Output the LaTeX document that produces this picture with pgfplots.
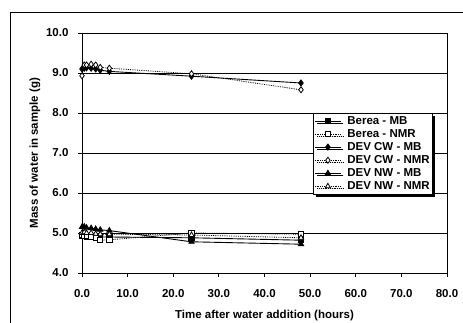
\documentclass[border=0pt]{standalone}
\usepackage{pgfplots}
\pgfplotsset{compat=1.18}
\usepackage{fontspec}
\setmainfont{Liberation Sans}
\usetikzlibrary{shadows}
\begin{document}
\begin{tikzpicture}[x=1pt,y=1pt]
\useasboundingbox (0,0) rectangle (463,323);
\draw[line width=0.8pt] (10,-2) -- (10,311) -- (465,311);
\begin{axis}[
  at={(82pt,50pt)}, anchor=south west,
  scale only axis, width=365pt, height=240pt,
  xmin=0, xmax=80, ymin=4, ymax=10,
  xtick={0,10,...,80}, ytick={4,5,...,10},
  /pgf/number format/assume math mode=true,
  /pgf/number format/.cd, fixed, fixed zerofill, precision=1, /pgfplots/.cd,
  tick label style={font=\bfseries\fontsize{11.5}{13}\selectfont},
  xticklabel style={yshift=-9pt},
  yticklabel style={xshift=-6pt},
  ymajorgrids, grid style={black, line width=0.7pt},
  axis line style={line width=0.9pt},
  tick style={black, line width=0.8pt},
  tick align=outside, tick pos=left, major tick length=4pt,
  xlabel={Time after water addition (hours)},
  ylabel={Mass of water in sample (g)},
  label style={font=\bfseries\fontsize{11.5}{13}\selectfont},
  xlabel style={at={(axis description cs:0.5,-0.179)}, anchor=center},
  ylabel style={at={(axis description cs:-0.129,0.5)}, anchor=center},
  legend style={at={(axis description cs:0.633,0.667)}, anchor=north west,
    draw=black, line width=0.8pt, fill=white,
    font=\bfseries\fontsize{11.5}{13}\selectfont,
    drop shadow={shadow xshift=2.5pt, shadow yshift=-2.5pt, fill=black, opacity=1},
    inner xsep=1pt, inner ysep=2pt, row sep=1.6pt,
    nodes={inner xsep=2pt, inner ysep=1pt},
    /tikz/every odd column/.append style={column sep=4pt}},
  legend cell align=left,
  legend image code/.code={\draw[mark repeat=2,mark phase=2,#1] plot coordinates {(0pt,0pt) (13pt,0pt) (26pt,0pt)};},
]
\addplot[black, line width=0.9pt, mark=square*, mark size=2.6pt, mark options={solid}] coordinates {
(0,4.92) (0.5,4.92) (1,4.91) (2,4.91) (3,4.9) (4,4.9) (6,4.9) (24,4.88) (48,4.82)};
\addlegendentry{Berea - MB}
\addplot[black, line width=0.8pt, densely dotted, mark=square*, mark size=2.6pt, mark options={solid, fill=white}] coordinates {
(0,4.95) (0.5,4.93) (1,4.92) (2,4.9) (3,4.88) (4,4.82) (6,4.83) (24,5.0) (48,4.97)};
\addlegendentry{Berea - NMR}
\addplot[black, line width=0.9pt, mark=diamond*, mark size=3pt, mark options={solid}] coordinates {
(0,9.1) (0.5,9.12) (1,9.13) (2,9.12) (3,9.1) (4,9.07) (6,9.04) (24,8.92) (48,8.75)};
\addlegendentry{DEV CW - MB}
\addplot[black, line width=0.8pt, densely dotted, mark=diamond*, mark size=3pt, mark options={solid, fill=white}] coordinates {
(0,8.93) (0.5,9.2) (1,9.2) (2,9.22) (3,9.2) (4,9.14) (6,9.12) (24,8.98) (48,8.58)};
\addlegendentry{DEV CW - NMR}
\addplot[black, line width=0.9pt, mark=triangle*, mark size=3pt, mark options={solid}] coordinates {
(0,5.15) (0.5,5.16) (1,5.13) (2,5.12) (3,5.1) (4,5.08) (6,5.06) (24,4.78) (48,4.72)};
\addlegendentry{DEV NW - MB}
\addplot[black, line width=0.8pt, densely dotted, mark=triangle*, mark size=3pt, mark options={solid, fill=white}] coordinates {
(0,5.0) (0.5,5.02) (1,5.0) (2,5.0) (3,4.98) (4,4.97) (6,4.97) (24,4.95) (48,4.88)};
\addlegendentry{DEV NW - NMR}
\end{axis}
\end{tikzpicture}
\end{document}
